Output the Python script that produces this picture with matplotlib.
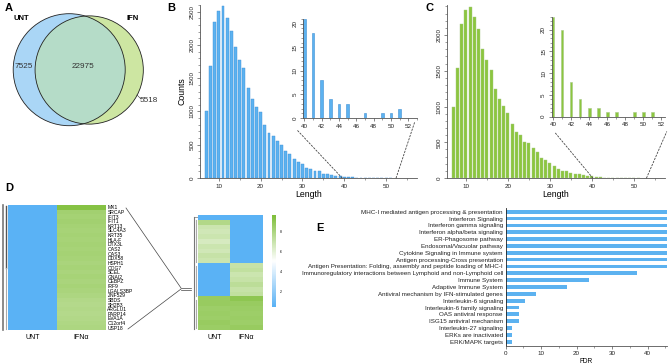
import matplotlib
matplotlib.use('Agg')
import matplotlib.pyplot as plt
import numpy as np
from matplotlib.patches import Circle, ConnectionPatch
from matplotlib.colors import LinearSegmentedColormap
from matplotlib.ticker import MultipleLocator

plt.rcParams['font.family'] = ['Liberation Sans', 'DejaVu Sans']

W, H = 668, 364

# ---- data ----
# A: venn counts (UNT only, shared, IFN only)
venn_sets = ['UNT', 'IFN']
venn_counts = [7525, 22975, 5518]

# B / C: peptide length histograms
lengths = list(range(7, 52))
counts_unt = [1000, 1690, 2340, 2510, 2580, 2400, 2215, 1970, 1775, 1650, 1360, 1190,
              1065, 985, 795, 670, 630, 550, 490, 400, 355, 280, 240, 205, 155, 140,
              100, 98, 62, 56, 46, 32, 25, 21, 18, 8, 4, 3, 3, 0, 1, 0, 1, 1, 2]
counts_ifn = [990, 1540, 2150, 2350, 2390, 2255, 2085, 1805, 1650, 1505, 1245, 1107,
              1010, 907, 758, 642, 595, 502, 488, 419, 363, 274, 256, 209, 172, 130,
              102, 93, 65, 56, 51, 37, 33, 23, 20, 8, 4, 2, 2, 1, 1, 0, 1, 1, 1]

# D: heatmaps
genes = ['MX1', 'SRCAP', 'IFIT3', 'IFIT1', 'KRT13', 'SLC4A3', 'KRT35', 'HLA-F', 'DTX3L',
         'OAS2', 'OAS3', 'DDX58', 'HSPH1', 'COG7', 'SCEL', 'GNAI2', 'CEBPZ', 'IRF9',
         'LGALS3BP', 'ZNF529', 'SBDS', 'SH2B3', 'ARGLU1', 'PARP14', 'EVA1A', 'C12orf4', 'USP18']
heat_cols = ['UNT', 'IFNα']
left_unt = [0.0] * 27
left_ifn = [0.97, 0.86, 0.85, 0.86, 0.85, 0.84, 0.85, 0.84, 0.85, 0.84, 0.85, 0.84, 0.83,
            0.84, 0.83, 0.84, 0.83, 0.84, 0.83, 0.82, 0.8, 0.79, 0.8, 0.79, 0.8, 0.81, 0.82]
right_unt = [0.0, 0.8, 0.7, 0.68, 0.7, 0.66, 0.7, 0.68, 0.72, 0.7,
             0.0, 0.0, 0.0, 0.0, 0.0, 0.0, 0.0,
             0.9, 0.9, 0.88, 0.89, 0.88, 0.9, 0.89]
right_ifn = [0.0, 0.0, 0.0, 0.0, 0.0, 0.0, 0.0, 0.0, 0.0, 0.0,
             0.72, 0.74, 0.7, 0.72, 0.76, 0.72, 0.74,
             0.94, 0.9, 0.89, 0.88, 0.89, 0.88, 0.9]
cbar_labels = ['8', '6', '4', '2']

# E: pathway enrichment
pathways = ['MHC-I mediated antigen processing & presentation', 'Interferon Signaling',
            'Interferon gamma signaling', 'Interferon alpha/beta signaling',
            'ER-Phagosome pathway', 'Endosomal/Vacuolar pathway',
            'Cytokine Signaling in Immune system', 'Antigen processing-Cross presentation',
            'Antigen Presentation: Folding, assembly and peptide loading of MHC-I',
            'Immunoregulatory interactions between Lymphoid and non-Lymphoid cell',
            'Immune System', 'Adaptive Immune System',
            'Antiviral mechanism by IFN-stimulated genes', 'Interleukin-6 signaling',
            'Interleukin-6 family signaling', 'OAS antiviral response',
            'ISG15 antiviral mechanism', 'Interleukin-27 signaling',
            'ERKs are inactivated', 'ERK/MAPK targets']
fdr = [48, 48, 48, 48, 48, 48, 48, 48, 48, 37, 23.5, 17.2, 8.5, 5.5, 3.8, 3.7, 3.7, 1.8, 1.8, 1.8]

BLUE = '#5cb2f0'
GREEN = '#8cc63f'

fig = plt.figure(figsize=(W / 100, H / 100), dpi=100)
fig.patch.set_facecolor('white')


def px_axes(l, t, r, b, **kw):
    return fig.add_axes([l / W, 1 - b / H, (r - l) / W, (b - t) / H], **kw)


def ftext(x, y, s, **kw):
    fig.text(x / W, 1 - y / H, s, **kw)


def style(ax, rot=True):
    for s in ['top', 'right']:
        ax.spines[s].set_visible(False)
    for s in ['left', 'bottom']:
        ax.spines[s].set_linewidth(0.6)
        ax.spines[s].set_color('#555555')
    ax.tick_params(which='major', length=2.5, width=0.5, labelsize=4.5, pad=1.5,
                   colors='#555555', labelcolor='#222222')
    ax.tick_params(which='minor', length=1.3, width=0.4, colors='#555555')
    if rot:
        for lab in ax.get_yticklabels():
            lab.set_rotation(90)
            lab.set_va('center')


# overlay for decorations in pixel space
ov = fig.add_axes([0, 0, 1, 1], zorder=-1)
ov.set_xlim(0, W)
ov.set_ylim(H, 0)
ov.axis('off')

# ---- A: venn ----
k = 56 / np.sqrt(venn_counts[0] + venn_counts[1])
r_unt = k * np.sqrt(venn_counts[0] + venn_counts[1])
r_ifn = k * np.sqrt(venn_counts[1] + venn_counts[2])
c_unt = (69.2, 69.7)
c_ifn = (89.2, 70.0)
ov.add_patch(Circle(c_unt, r_unt, facecolor='#aad6f6', edgecolor='none'))
ov.add_patch(Circle(c_ifn, r_ifn, facecolor='#cde6a2', edgecolor='none'))
clip = Circle(c_unt, r_unt, transform=ov.transData)
inter = Circle(c_ifn, r_ifn, facecolor='#b5dcc8', edgecolor='none')
ov.add_patch(inter)
inter.set_clip_path(clip)
ov.add_patch(Circle(c_unt, r_unt, facecolor='none', edgecolor='#222222', lw=0.6))
ov.add_patch(Circle(c_ifn, r_ifn, facecolor='none', edgecolor='#222222', lw=0.6))
ov.text(21, 18, venn_sets[0], fontsize=5.5, fontweight='bold', ha='center', va='center')
ov.text(133, 18, venn_sets[1], fontsize=5.5, fontweight='bold', ha='center', va='center')
ov.text(24, 67, str(venn_counts[0]), fontsize=5.9, ha='center', va='center', color='#333333')
ov.text(83, 67, str(venn_counts[1]), fontsize=5.9, ha='center', va='center', color='#333333')
ov.text(149, 101, str(venn_counts[2]), fontsize=5.9, ha='center', va='center', color='#333333')
ov.plot([137, 141], [95, 99], color='#333333', lw=0.4)

# ---- B / C ----
def hist_panel(l, r, top, ymax, counts, color, edge, il, it, ir, ib, iy, ixmax, conA, conB):
    ax = px_axes(l, top, r, 178)
    ax.bar(lengths, counts, width=0.7, color=color, edgecolor=edge, linewidth=0.3)
    ax.set_xlim(5.5, 57.4)
    ax.set_ylim(0, ymax)
    ax.xaxis.set_major_locator(MultipleLocator(10))
    ax.xaxis.set_minor_locator(MultipleLocator(5))
    ax.yaxis.set_major_locator(MultipleLocator(500))
    ax.yaxis.set_minor_locator(MultipleLocator(100))
    style(ax)
    ax.set_xlabel('Length', fontsize=6.3, labelpad=1)

    axi = px_axes(il, it, ir, ib)
    tail_l = [x for x in lengths if x >= 40]
    tail_c = [c for x, c in zip(lengths, counts) if x >= 40]
    axi.bar(tail_l, tail_c, width=0.3, color=color, edgecolor=edge, linewidth=0.4)
    axi.set_xlim(39.85, ixmax)
    axi.set_ylim(0, iy)
    axi.xaxis.set_major_locator(MultipleLocator(2))
    axi.xaxis.set_minor_locator(MultipleLocator(1))
    axi.yaxis.set_major_locator(MultipleLocator(5))
    axi.yaxis.set_minor_locator(MultipleLocator(1))
    style(axi)

    for (xa, xb) in zip(conA, conB):
        con = ConnectionPatch(xyA=(xa, 0), coordsA=ax.transData, xyB=xb,
                              coordsB=axi.transAxes, linestyle=(0, (2, 2)), lw=0.6,
                              color='#444444')
        fig.add_artist(con)
    return ax


axB = hist_panel(200, 417, 5, 2600, counts_unt, BLUE, '#3f90d4',
                 303, 19, 417, 118, 21, 53.0,
                 [39.5, 52.4], [(-0.053, -0.12), (0.98, -0.04)])
axB.set_ylabel('Counts', fontsize=6.3, labelpad=2)
axC = hist_panel(447, 665, 5, 2420, counts_ifn, GREEN, '#a6c884',
                 551.7, 16.7, 665, 116.7, 23, 52.4,
                 [40.2, 53.0], [(0.03, -0.16), (1.015, -0.15)])

# ---- D: heatmaps ----
cmap = LinearSegmentedColormap.from_list('bwg', ['#5ab2f5', '#ffffff', '#7fbf3a'])

axD1 = px_axes(8.3, 205, 106, 330)
axD1.imshow(np.column_stack([left_unt, left_ifn]), cmap=cmap, vmin=0, vmax=1,
            aspect='auto', interpolation='nearest')
axD1.set_yticks(range(len(genes)))
axD1.set_yticklabels(genes, fontsize=3.6)
axD1.yaxis.tick_right()
axD1.set_xticks(range(2))
axD1.set_xticklabels(heat_cols, fontsize=5)
axD1.tick_params(length=0, pad=1)
axD1.tick_params(axis='x', pad=3)
for s in axD1.spines.values():
    s.set_visible(False)

axD2 = px_axes(198.3, 215, 262.7, 330)
axD2.imshow(np.column_stack([right_unt, right_ifn]), cmap=cmap, vmin=0, vmax=1,
            aspect='auto', interpolation='nearest')
axD2.set_yticks([])
axD2.set_xticks(range(2))
axD2.set_xticklabels(heat_cols, fontsize=5)
axD2.tick_params(length=0, pad=3)
for s in axD2.spines.values():
    s.set_visible(False)

axCb = px_axes(272, 215, 276, 307)
axCb.imshow(np.linspace(1, 0, 100)[:, None], cmap=cmap, aspect='auto')
axCb.set_xticks([])
axCb.yaxis.tick_right()
axCb.set_yticks(np.linspace(17, 83, 4))
axCb.set_yticklabels(cbar_labels, fontsize=2.5)
axCb.tick_params(length=0, pad=3)
for s in axCb.spines.values():
    s.set_visible(False)

# dendrograms and zoom lines
g = '#777777'
ov.plot([2.5, 2.5], [205, 330], color=g, lw=1.2)
ov.plot([6, 6], [206, 268], color='#555555', lw=1.0)
ov.plot([5.5, 5.5], [268, 329], color='#aaaaaa', lw=0.8)
ov.plot([126, 181], [208, 288], color='#444444', lw=0.5)
ov.plot([128, 181], [329, 289], color='#444444', lw=0.5)
ov.plot([181, 191], [287.5, 287.5], color='#444444', lw=0.5)
ov.plot([181, 191], [290, 290], color='#444444', lw=0.5)
ov.plot([193.5, 193.5], [217, 329], color=g, lw=0.8)
ov.plot([196, 196], [220, 262], color='#aaaaaa', lw=0.8)
ov.plot([196, 196], [266, 296], color='#aaaaaa', lw=0.8)
ov.plot([196, 196], [300, 328], color='#aaaaaa', lw=0.8)
ov.plot([193.5, 198], [217, 217], color=g, lw=0.5)

# ---- E: pathways ----
axE = px_axes(505.7, 208, 666.7, 345.7)
axE.barh(range(len(pathways)), fdr, height=0.55, color=BLUE)
axE.set_ylim(len(pathways) - 0.42, -0.54)
axE.set_xlim(0, 45.4)
axE.set_yticks(range(len(pathways)))
axE.set_yticklabels(pathways, fontsize=4.7)
axE.xaxis.set_major_locator(MultipleLocator(10))
axE.xaxis.set_minor_locator(MultipleLocator(5))
style(axE, rot=False)
axE.tick_params(axis='y', length=0, pad=2)
axE.spines['left'].set_color('#222222')
axE.set_xlabel('FDR', fontsize=4.7, labelpad=1.5)

# panel letters
for x, y, s in [(5, 8, 'A'), (167, 8, 'B'), (425, 8, 'C'), (5, 188, 'D'), (316, 228, 'E')]:
    ftext(x, y, s, fontsize=8, fontweight='bold', va='center', ha='left')

fig.savefig('out.png', dpi=100)
